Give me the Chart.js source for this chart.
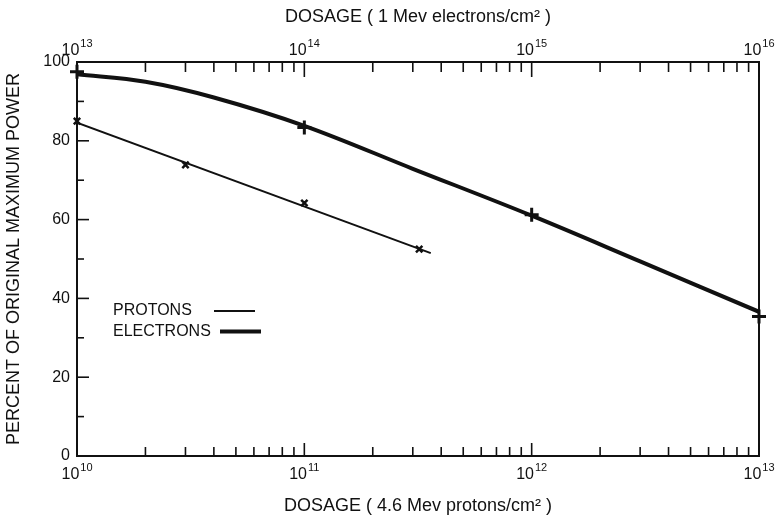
<!DOCTYPE html>
<html>
<head>
<meta charset="utf-8">
<script src="https://cdn.jsdelivr.net/npm/chart.js@4"></script>
<style>
    html, body { margin: 0; padding: 0; background: #fff; }
    #wrap { width: 781px; height: 524px; }
</style>
</head>
<body>
<div id="wrap"><canvas id="dosageChart"></canvas></div>
<script>
// percent of original maximum power vs. dosage
// protons use the bottom axis, electrons the top one
const protonLineDose = [1e10, 3.6e11];
const protonLinePower = [84.6, 51.5];
const protonPointDose = [1e10, 3e10, 1e11, 3.2e11];
const protonPointPower = [85, 73.9, 64.2, 52.5];

const electronLineDose = [1e13, 2e13, 4e13, 1e14, 3e14, 1e15, 3e15, 1e16];
const electronLinePower = [96.9, 95, 91, 83.8, 72.9, 61, 49.4, 36.6];
const electronPointDose = [1e13, 1e14, 1e15, 1e16];
const electronPointPower = [97.5, 83.4, 61.2, 35.4];

const protonDecades = [10, 11, 12, 13];
const electronDecades = [13, 14, 15, 16];
const powerTicks = [0, 10, 20, 30, 40, 50, 60, 70, 80, 90, 100];

const family = '"Liberation Sans", Arial, Helvetica, sans-serif';
const ink = '#111';

function toPoints(xs, ys) {
    return xs.map((x, i) => ({x: x, y: ys[i]}));
}

function drawPower(ctx, x, y, exp) {
    ctx.textAlign = 'left';
    ctx.textBaseline = 'middle';
    ctx.font = '16px ' + family;
    let baseW = ctx.measureText('10').width;
    ctx.font = '11px ' + family;
    let expW = ctx.measureText(String(exp)).width;
    let start = x - (baseW + expW + 1) / 2;
    ctx.font = '16px ' + family;
    ctx.fillText('10', start, y);
    ctx.font = '11px ' + family;
    ctx.fillText(String(exp), start + baseW + 1, y - 7);
}

// ticks point into the plot, like the original graph paper
const insideTicks = {
    id: 'insideTicks',
    afterDraw(chart) {
        let ctx = chart.ctx;
        let area = chart.chartArea;
        let xs = chart.scales.x, xt = chart.scales.x2, ys = chart.scales.y;
        ctx.save();
        ctx.strokeStyle = ink;
        ctx.fillStyle = ink;
        ctx.lineWidth = 2;

        // right frame edge
        ctx.beginPath();
        ctx.moveTo(area.right, area.top);
        ctx.lineTo(area.right, area.bottom);
        ctx.stroke();

        ctx.lineWidth = 1.6;
        protonDecades.forEach(d => {
            for (let m = 1; m <= 9; m++) {
                let v = m * Math.pow(10, d);
                if (v > xs.max * 1.0001) break;
                let px = xs.getPixelForValue(v);
                let len = m == 1 ? 13 : 9;
                ctx.beginPath();
                ctx.moveTo(px, area.bottom);
                ctx.lineTo(px, area.bottom - len);
                ctx.stroke();
            }
        });
        electronDecades.forEach(d => {
            for (let m = 1; m <= 9; m++) {
                let v = m * Math.pow(10, d);
                if (v > xt.max * 1.0001) break;
                let px = xt.getPixelForValue(v);
                let len = m == 1 ? 15 : 10;
                ctx.beginPath();
                ctx.moveTo(px, area.top);
                ctx.lineTo(px, area.top + len);
                ctx.stroke();
            }
        });
        powerTicks.forEach(v => {
            if (v == 0 || v == 100) return;
            let py = ys.getPixelForValue(v);
            let len = v % 20 == 0 ? 12 : 7;
            ctx.beginPath();
            ctx.moveTo(area.left, py);
            ctx.lineTo(area.left + len, py);
            ctx.stroke();
        });

        // decade labels with raised exponents
        ctx.fillStyle = ink;
        protonDecades.forEach(d => drawPower(ctx, xs.getPixelForValue(Math.pow(10, d)), area.bottom + 19, d));
        electronDecades.forEach(d => drawPower(ctx, xt.getPixelForValue(Math.pow(10, d)), area.top - 11, d));

        // key
        ctx.font = '16px ' + family;
        ctx.textAlign = 'left';
        ctx.textBaseline = 'middle';
        let ky1 = ys.getPixelForValue(36.8), ky2 = ys.getPixelForValue(31.6);
        ctx.fillText('PROTONS', area.left + 36, ky1);
        ctx.fillText('ELECTRONS', area.left + 36, ky2);
        ctx.lineWidth = 2;
        ctx.beginPath();
        ctx.moveTo(area.left + 137, ky1);
        ctx.lineTo(area.left + 178, ky1);
        ctx.stroke();
        ctx.lineWidth = 4;
        ctx.beginPath();
        ctx.moveTo(area.left + 143, ky2);
        ctx.lineTo(area.left + 184, ky2);
        ctx.stroke();
        ctx.restore();
    }
};

function titleOf(text, pad) {
    return {
        display: true,
        text: text,
        color: ink,
        font: {family: family, size: 18},
        padding: pad
    };
}

let canvas = document.getElementById('dosageChart').getContext('2d');
let dosageChart = new Chart(canvas, {
    type: 'scatter',
    data: {
        datasets: [
            {
                label: 'PROTONS',
                data: toPoints(protonLineDose, protonLinePower),
                xAxisID: 'x',
                showLine: true,
                borderColor: ink,
                borderWidth: 2,
                pointRadius: 0,
                tension: 0
            },
            {
                label: 'PROTONS points',
                data: toPoints(protonPointDose, protonPointPower),
                xAxisID: 'x',
                pointStyle: 'crossRot',
                pointRadius: 4.5,
                borderColor: ink,
                borderWidth: 2.5,
                clip: false
            },
            {
                label: 'ELECTRONS',
                data: toPoints(electronLineDose, electronLinePower),
                xAxisID: 'x2',
                showLine: true,
                borderColor: ink,
                borderWidth: 4,
                pointRadius: 0,
                tension: 0.35
            },
            {
                label: 'ELECTRONS points',
                data: toPoints(electronPointDose, electronPointPower),
                xAxisID: 'x2',
                pointStyle: 'cross',
                pointRadius: 7,
                borderColor: ink,
                borderWidth: 3,
                clip: false
            }
        ]
    },
    options: {
        responsive: true,
        maintainAspectRatio: false,
        animation: false,
        layout: {padding: {left: 0, right: 22, top: 0, bottom: 0}},
        plugins: {
            legend: {display: false},
            tooltip: {enabled: false}
        },
        scales: {
            x: {
                type: 'logarithmic',
                position: 'bottom',
                min: 1e10,
                max: 1e13,
                grid: {display: false, drawTicks: false},
                border: {display: true, color: ink, width: 2},
                ticks: {display: false},
                title: titleOf('DOSAGE ( 4.6 Mev protons/cm² )', {bottom: 7}),
                afterFit: scale => { scale.height = 68; }
            },
            x2: {
                type: 'logarithmic',
                position: 'top',
                min: 1e13,
                max: 1e16,
                grid: {display: false, drawTicks: false},
                border: {display: true, color: ink, width: 2},
                ticks: {display: false},
                title: titleOf('DOSAGE ( 1 Mev electrons/cm² )', {top: 6}),
                afterFit: scale => { scale.height = 62; }
            },
            y: {
                type: 'linear',
                position: 'left',
                min: 0,
                max: 100,
                grid: {display: false, drawTicks: false},
                border: {display: true, color: ink, width: 2},
                ticks: {
                    stepSize: 20,
                    padding: 7,
                    color: ink,
                    font: {family: family, size: 16}
                },
                title: titleOf('PERCENT OF ORIGINAL MAXIMUM POWER', {top: 3}),
                afterFit: scale => { scale.width = 77; }
            }
        }
    },
    plugins: [insideTicks]
});
</script>
</body>
</html>
